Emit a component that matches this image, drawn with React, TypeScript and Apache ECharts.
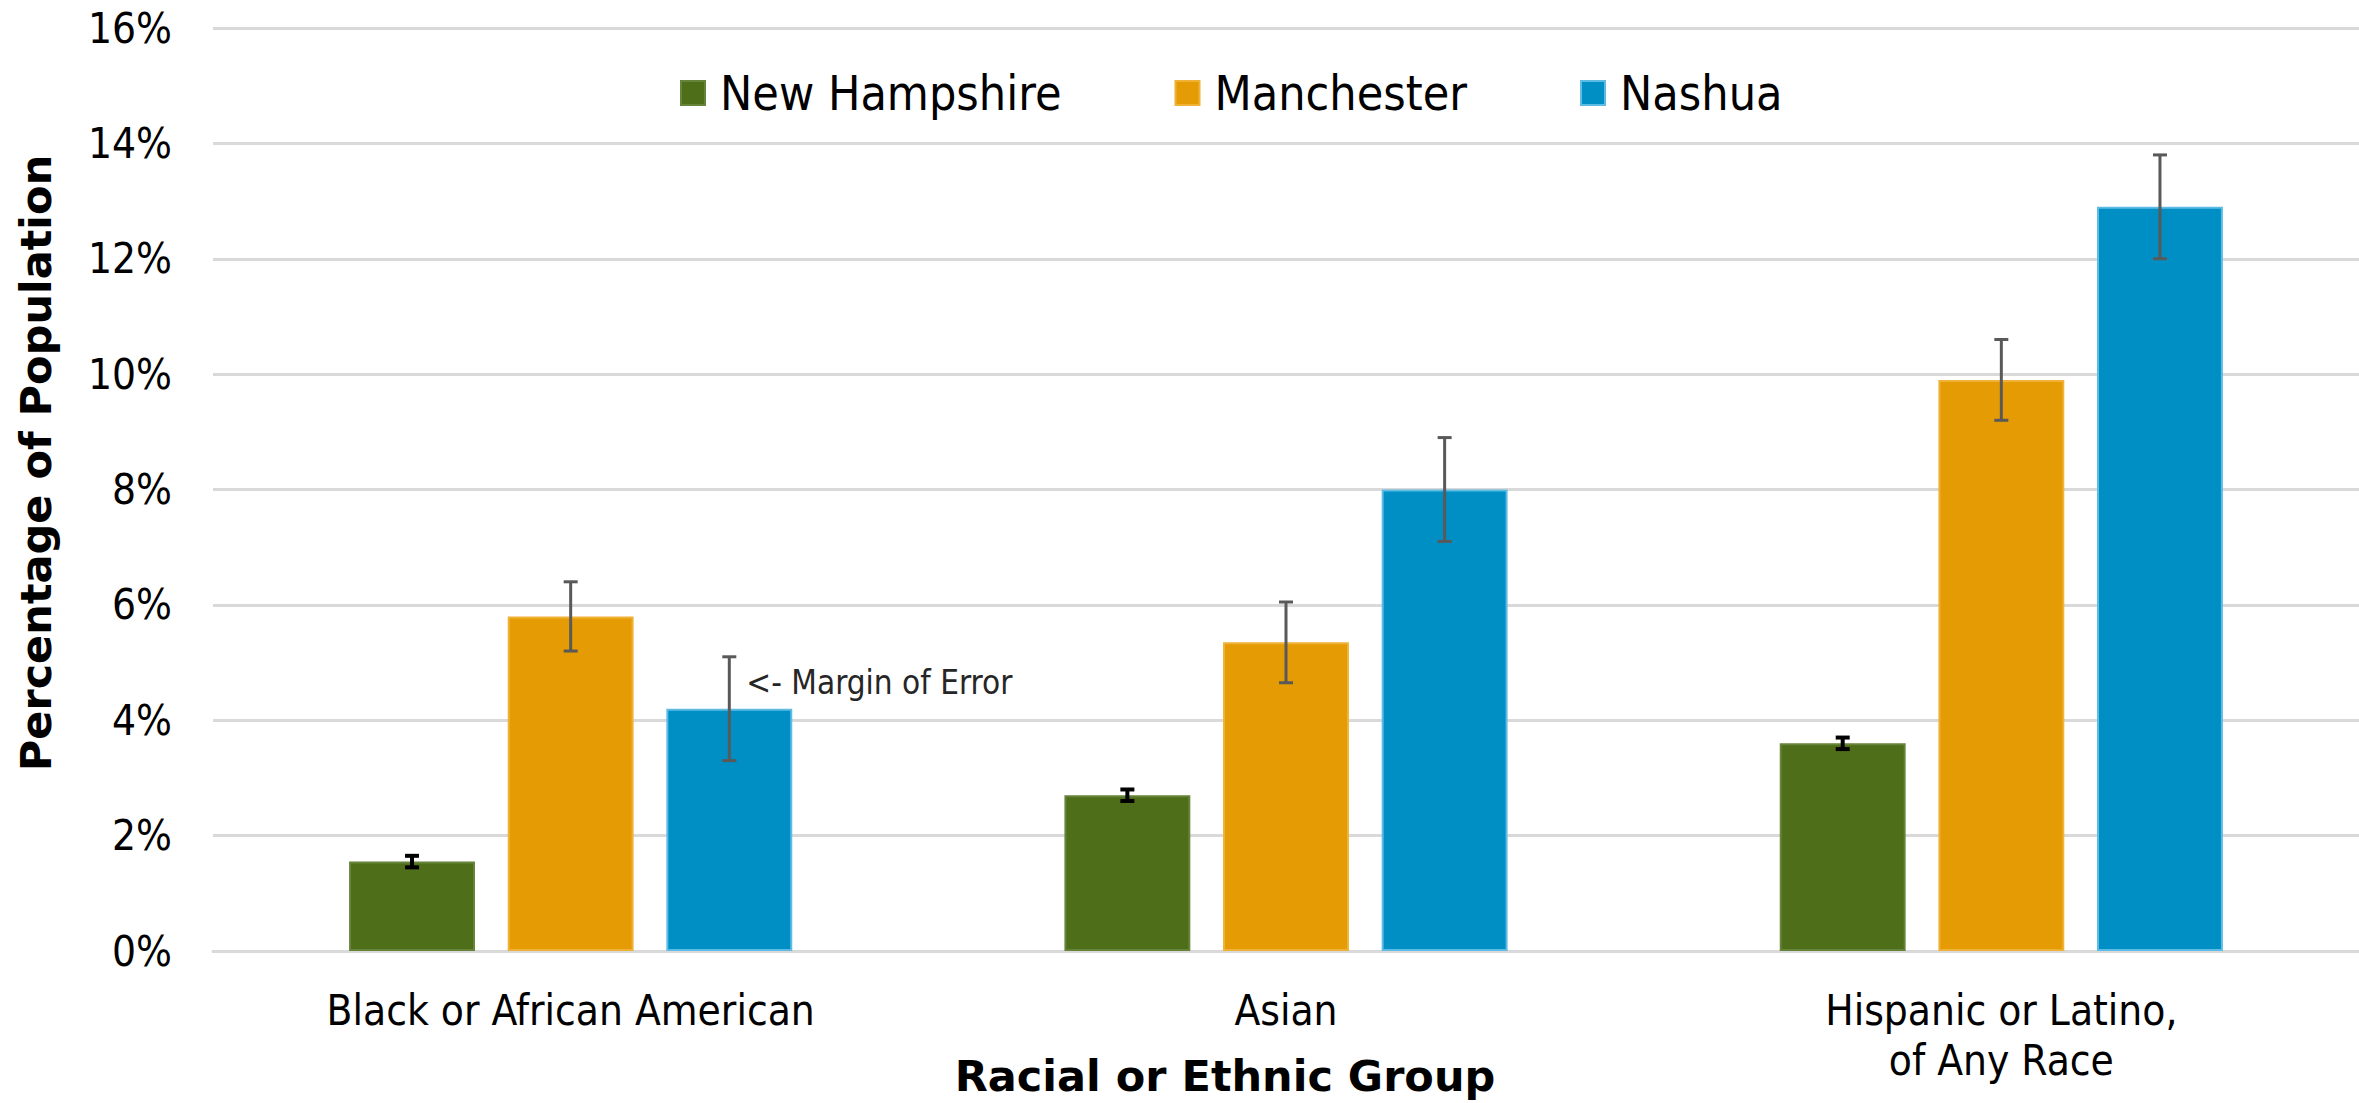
import React, { useEffect, useRef } from "react";
import * as echarts from "echarts";

const categories = ["Black or African American", "Asian", "Hispanic or Latino,\nof Any Race"];
const seriesNames = ["New Hampshire", "Manchester", "Nashua"];
const nhValues = [1.55, 2.7, 3.6];
const manValues = [5.8, 5.35, 9.9];
const nasValues = [4.2, 8.0, 12.9];
const nhMoe = [0.1, 0.1, 0.1];
const manMoe = [0.6, 0.7, 0.7];
const nasMoe = [0.9, 0.9, 0.9];
const yTicks = [0, 2, 4, 6, 8, 10, 12, 14, 16];
const annotationText = "<- Margin of Error";
const annotationSeries = 2;
const annotationIndex = 0;

const FONT = "'DejaVu Sans Condensed', 'DejaVu Sans', sans-serif";
const BAR_W = 0.176;
const BAR_GAP = 0.26;

const colors = ["#4e6e1a", "#e59c04", "#008fc5"];
const borders = ["#66833a", "#f0b236", "#5ebbe4"];
const errColors = ["#000000", "#595959", "#595959"];

function makeErrorRender(pos: number) {
  return (params: any, api: any) => {
    const ci = api.value(0);
    const v = api.value(1);
    const m = api.value(2);
    const band = api.size([1, 0])[0];
    const bw = band * BAR_W;
    const off = (pos - 1) * bw * (1 + BAR_GAP);
    const top = api.coord([ci, v + m]);
    const bot = api.coord([ci, v - m]);
    const x = top[0] + off;
    const half = 7;
    const color = errColors[pos];
    const lw = pos === 0 ? 4 : 3;
    const children: any[] = [
      { type: "line", shape: { x1: x, y1: top[1], x2: x, y2: bot[1] }, style: { stroke: color, lineWidth: lw } },
      { type: "line", shape: { x1: x - half, y1: top[1], x2: x + half, y2: top[1] }, style: { stroke: color, lineWidth: lw } },
      { type: "line", shape: { x1: x - half, y1: bot[1], x2: x + half, y2: bot[1] }, style: { stroke: color, lineWidth: lw } },
    ];
    if (pos === annotationSeries && params.dataIndex === annotationIndex) {
      const mid = api.coord([ci, v + m / 2]);
      children.push({
        type: "text",
        x: x + 17,
        y: mid[1],
        style: {
          text: annotationText,
          fill: "#262626",
          fontSize: 33,
          fontFamily: FONT,
          align: "left",
          verticalAlign: "middle",
        },
      });
    }
    return { type: "group", children };
  };
}

export default function App() {
  const ref = useRef<HTMLDivElement>(null);
  useEffect(() => {
    if (!ref.current) return;
    const chart = echarts.init(ref.current, undefined, { renderer: "svg" });
    const values = [nhValues, manValues, nasValues];
    const moes = [nhMoe, manMoe, nasMoe];
    const barSeries = seriesNames.map((name, i) => ({
      name,
      type: "bar",
      data: values[i],
      barWidth: (BAR_W * 100).toFixed(1) + "%",
      barGap: BAR_GAP * 100 + "%",
      itemStyle: { color: colors[i], borderColor: borders[i], borderWidth: 2 },
      z: 2,
    }));
    const errSeries = seriesNames.map((name, i) => ({
      name: name + " MOE",
      type: "custom",
      renderItem: makeErrorRender(i),
      data: categories.map((_, ci) => [ci, values[i][ci], moes[i][ci]]),
      encode: { x: 0, y: 1 },
      z: 5,
      silent: true,
    }));
    chart.setOption({
      animation: false,
      backgroundColor: "#ffffff",
      grid: { left: 213, right: 0, top: 28, bottom: 152 },
      legend: {
        data: seriesNames,
        left: 680,
        top: 68,
        padding: 0,
        icon: "rect",
        itemWidth: 24,
        itemHeight: 24,
        itemGap: 113,
        textStyle: { fontSize: 48, fontFamily: FONT, color: "#000", padding: [0, 0, 0, 10], lineHeight: 50 },
      },
      xAxis: {
        type: "category",
        data: categories,
        axisLine: { show: true, lineStyle: { color: "#d9d9d9", width: 3 } },
        axisTick: { show: false },
        axisLabel: { fontSize: 42, fontFamily: FONT, color: "#000", margin: 34, lineHeight: 50, interval: 0 },
      },
      yAxis: {
        type: "value",
        min: yTicks[0],
        max: yTicks[yTicks.length - 1],
        interval: 2,
        axisLine: { show: false },
        axisTick: { show: false },
        splitLine: { lineStyle: { color: "#d9d9d9", width: 3 } },
        axisLabel: { formatter: "{value}%", fontSize: 42, fontFamily: FONT, color: "#000", margin: 41 },
      },
      graphic: [
        {
          type: "text",
          x: 36,
          y: 463,
          rotation: Math.PI / 2,
          style: {
            text: "Percentage of Population",
            fontSize: 43,
            fontWeight: "bold",
            fontFamily: "'DejaVu Sans', sans-serif",
            fill: "#000",
            align: "center",
            verticalAlign: "middle",
          },
        },
        {
          type: "text",
          x: 1225,
          y: 1076,
          style: {
            text: "Racial or Ethnic Group",
            fontSize: 43,
            fontWeight: "bold",
            fontFamily: "'DejaVu Sans', sans-serif",
            fill: "#000",
            align: "center",
            verticalAlign: "middle",
          },
        },
      ],
      series: [...barSeries, ...errSeries],
    });
    return () => chart.dispose();
  }, []);
  return (
    <div
      ref={ref}
      style={{ position: "absolute", left: 0, top: 0, width: 2359, height: 1103 }}
    />
  );
}
